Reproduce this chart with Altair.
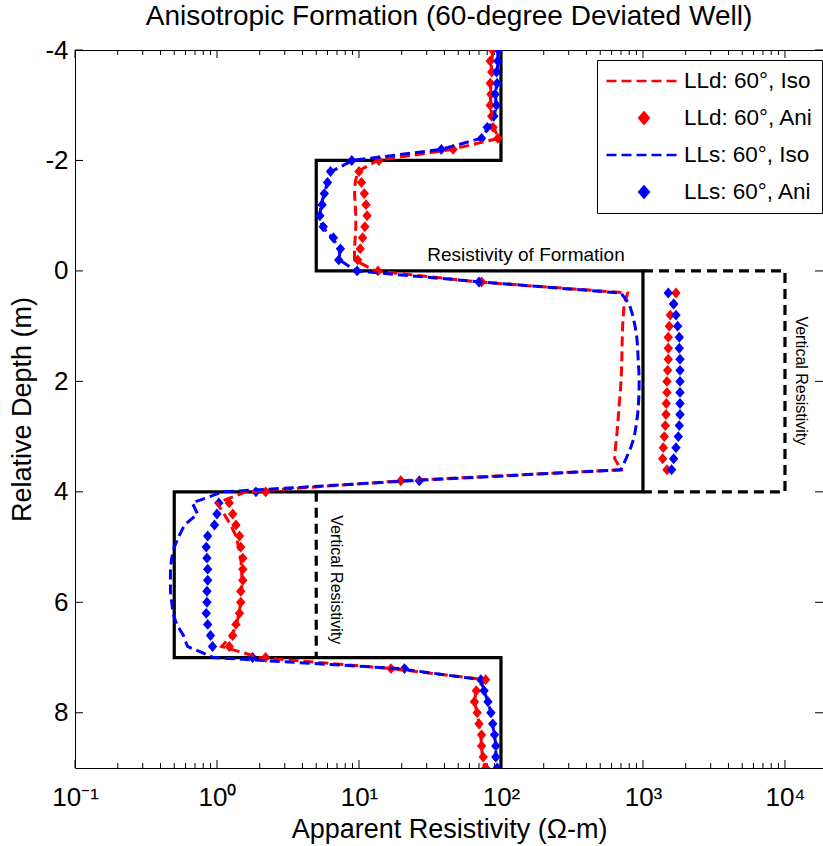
import altair as alt
import pandas as pd

# ---------------- data ----------------
depth = [-4.0, -3.8, -3.6, -3.4, -3.2, -3.0, -2.8, -2.6, -2.4, -2.2,
         -2.0, -1.8, -1.6, -1.4, -1.2, -1.0, -0.8, -0.6, -0.4, -0.2,
         0.0, 0.2, 0.4, 0.6, 0.8, 1.0, 1.2, 1.4, 1.6, 1.8,
         2.0, 2.2, 2.4, 2.6, 2.8, 3.0, 3.2, 3.4, 3.6, 3.8,
         4.0, 4.2, 4.4, 4.6, 4.8, 5.0, 5.2, 5.4, 5.6, 5.8,
         6.0, 6.2, 6.4, 6.6, 6.8, 7.0, 7.2, 7.4, 7.6, 7.8,
         8.0, 8.2, 8.4, 8.6, 8.8, 9.0]

lld_iso = [88, 86, 85, 85, 84, 85, 86, 89, 96, 45,
           13.5, 9.8, 9.4, 9.3, 9.4, 9.5, 9.5, 9.4, 9.3, 9.3,
           13, 70, 780, 738, 727, 719, 715, 712, 710, 706,
           700, 692, 681, 672, 663, 653, 640, 632, 700, 20,
           1.6, 1.0, 1.12, 1.25, 1.36, 1.42, 1.47, 1.49, 1.5, 1.49,
           1.47, 1.43, 1.37, 1.27, 1.08, 2.0, 17, 77, 67, 65,
           68, 70, 72, 73, 74, 77]

lld_ani = [87, 84, 86, 84, 85, 84, 86, 88, 95, 46,
           13.8, 10.0, 10.4, 10.9, 11.2, 11.4, 11.0, 10.6, 10.2, 9.8,
           13.6, 73, 1708, 1644, 1558, 1532, 1507, 1507, 1507, 1492,
           1476, 1476, 1460, 1452, 1436, 1413, 1390, 1376, 1476, 19.7,
           2.2, 1.22, 1.29, 1.36, 1.44, 1.47, 1.52, 1.52, 1.52, 1.47,
           1.47, 1.44, 1.36, 1.29, 1.22, 2.2, 16.8, 78, 67, 65,
           68, 70, 73, 73, 75, 78]

lls_iso = [95, 95, 94, 93, 92, 92, 90, 82, 72, 38,
           9.0, 6.4, 6.0, 5.7, 5.4, 5.3, 5.5, 6.5, 7.3, 7.3,
           9.5, 72, 700, 800, 846, 880, 905, 917, 925, 935,
           940, 938, 930, 917, 895, 869, 820, 760, 700, 23,
           1.1, 0.67, 0.73, 0.59, 0.54, 0.5, 0.48, 0.47, 0.47, 0.47,
           0.48, 0.49, 0.52, 0.58, 0.62, 0.95, 19, 72, 76, 81,
           85, 87, 90, 92, 92, 94]

lls_ani = [96, 95, 93, 94, 91, 93, 89, 80, 73, 38,
           8.9, 6.3, 6.0, 5.7, 5.5, 5.3, 5.6, 6.6, 7.4, 7.2,
           9.7, 70, 1507, 1644, 1708, 1755, 1802, 1802, 1823, 1823,
           1823, 1823, 1823, 1823, 1802, 1773, 1708, 1644, 1590, 26.6,
           1.88, 1.03, 1.0, 0.96, 0.86, 0.84, 0.85, 0.86, 0.86, 0.85,
           0.85, 0.84, 0.86, 0.9, 0.93, 1.78, 20.9, 72, 76, 81,
           85, 87.5, 90, 92, 92, 94]

series_names = ["LLd: 60°, Iso", "LLd: 60°, Ani", "LLs: 60°, Iso", "LLs: 60°, Ani"]

# formation (horizontal resistivity) model
form_res = [100, 100, 5, 5, 1000, 1000, 0.5, 0.5, 100, 100]
form_depth = [-4, -2, -2, 0, 0, 4, 4, 7, 7, 9]

# vertical resistivity
vert_res = [1000, 10000, 10000, 1000, 5, 5]
vert_depth = [0, 0, 4, 4, 4, 7]
vert_grp = ["a", "a", "a", "a", "b", "b"]

annot_text = ["Resistivity of Formation"]
annot_res = [150]
annot_depth = [-0.29]

vert_text = ["Vertical Resistivity", "Vertical Resistivity"]
vert_text_res = [12970, 6.89]
vert_text_depth = [1.99, 5.59]

x_major = [0.1, 1, 10, 100, 1000, 10000]
x_minor = [0.2, 0.3, 0.4, 0.5, 0.6, 0.7, 0.8, 0.9,
           2, 3, 4, 5, 6, 7, 8, 9,
           20, 30, 40, 50, 60, 70, 80, 90,
           200, 300, 400, 500, 600, 700, 800, 900,
           2000, 3000, 4000, 5000, 6000, 7000, 8000, 9000]
y_ticks = [-4, -2, 0, 2, 4, 6, 8]

# ---------------- tables ----------------
iso_df = pd.concat([
    pd.DataFrame({"depth": depth, "res": lld_iso, "series": series_names[0]}),
    pd.DataFrame({"depth": depth, "res": lls_iso, "series": series_names[2]}),
])
ani_df = pd.concat([
    pd.DataFrame({"depth": depth, "res": lld_ani, "series": series_names[1]}),
    pd.DataFrame({"depth": depth, "res": lls_ani, "series": series_names[3]}),
])
form_df = pd.DataFrame({"res": form_res, "depth": form_depth, "idx": list(range(len(form_res)))})
vert_df = pd.DataFrame({"res": vert_res, "depth": vert_depth, "grp": vert_grp,
                        "idx": list(range(len(vert_res)))})
annot_df = pd.DataFrame({"res": annot_res, "depth": annot_depth, "label": annot_text})
vtext_df = pd.DataFrame({"res": vert_text_res, "depth": vert_text_depth, "label": vert_text})
xmaj_df = pd.DataFrame({"res": x_major})
xmin_df = pd.DataFrame({"res": x_minor})
ytick_df = pd.DataFrame({"depth": y_ticks})

# ---------------- style ----------------
FONT = "Liberation Sans"
RED = "#ff0000"
BLUE = "#0000ff"
W, H = 748, 718

LINE_PATH = "M-1,0L1,0"
DIAMOND_PATH = "M0,-0.145L0.125,0L0,0.145L-0.125,0Z"

x_scale = alt.Scale(type="log", domain=[0.1, 18530], nice=False)
y_scale = alt.Scale(domain=[-4, 9], reverse=True, nice=False, zero=False)

x_label_expr = ("datum.value < 0.5 ? '10⁻¹' : datum.value < 5 ? '10⁰' : "
                "datum.value < 50 ? '10¹' : datum.value < 500 ? '10²' : "
                "datum.value < 5000 ? '10³' : '10⁴'")
x_axis = alt.Axis(values=x_major, labelExpr=x_label_expr, ticks=False, tickSize=0,
                  domain=False, grid=False, labelFontSize=26, labelPadding=16,
                  labelFlush=False, labelOverlap=False,
                  title="Apparent Resistivity (Ω-m)", titleFontSize=27,
                  titleFontWeight="normal", titlePadding=6)
y_axis = alt.Axis(values=y_ticks,
                  labelExpr="datum.value < 0 ? '-' + abs(datum.value) : '' + datum.value",
                  ticks=False, tickSize=0, domain=False, grid=False, labelFontSize=26,
                  labelPadding=7, labelFlush=False, labelOverlap=False,
                  title="Relative Depth (m)", titleFontSize=27,
                  titleFontWeight="normal", titlePadding=8)


def X():
    return alt.X("res:Q", scale=x_scale, axis=x_axis)


def Y():
    return alt.Y("depth:Q", scale=y_scale, axis=y_axis)


leg = alt.Legend(title=None)
color_range = [RED, RED, BLUE, BLUE]

# ---------------- layers ----------------
formation = alt.Chart(form_df).mark_line(color="black", strokeWidth=3.2).encode(
    x=X(), y=Y(), order=alt.Order("idx:Q"))

vertical = alt.Chart(vert_df).mark_line(color="black", strokeWidth=3.2, strokeDash=[10, 6]).encode(
    x=X(), y=Y(), detail="grp:N", order=alt.Order("idx:Q"))

points = alt.Chart(ani_df).mark_point(filled=True, opacity=1, size=5625, clip=True).encode(
    x=X(), y=Y(),
    fill=alt.Fill("series:N", scale=alt.Scale(domain=series_names, range=color_range), legend=leg),
    shape=alt.Shape("series:N", scale=alt.Scale(domain=series_names,
                                                range=[LINE_PATH, DIAMOND_PATH, LINE_PATH, DIAMOND_PATH]),
                    legend=leg),
)

lines = alt.Chart(iso_df).mark_line(strokeWidth=3).encode(
    x=X(), y=Y(), order=alt.Order("depth:Q"),
    stroke=alt.Stroke("series:N", scale=alt.Scale(domain=series_names, range=color_range), legend=leg),
    strokeDash=alt.StrokeDash("series:N", scale=alt.Scale(domain=series_names,
                                                          range=[[10, 5], [1, 0], [10, 5], [1, 0]]),
                              legend=leg),
)

annot = alt.Chart(annot_df).mark_text(font=FONT, fontSize=19, color="black",
                                      align="center", baseline="middle").encode(
    x=X(), y=Y(), text="label:N")

vtext = alt.Chart(vtext_df).mark_text(font=FONT, fontSize=16, color="black", angle=90,
                                      align="center", baseline="middle").encode(
    x=X(), y=Y(), text="label:N")

xmaj_bottom = alt.Chart(xmaj_df).mark_rule(color="black", strokeWidth=1).encode(
    x=X(), y=alt.value(H), y2=alt.value(H - 8))
xmaj_top = alt.Chart(xmaj_df).mark_rule(color="black", strokeWidth=1).encode(
    x=X(), y=alt.value(0), y2=alt.value(8))
xmin_bottom = alt.Chart(xmin_df).mark_rule(color="black", strokeWidth=1).encode(
    x=X(), y=alt.value(H), y2=alt.value(H - 5))
xmin_top = alt.Chart(xmin_df).mark_rule(color="black", strokeWidth=1).encode(
    x=X(), y=alt.value(0), y2=alt.value(5))
y_left = alt.Chart(ytick_df).mark_rule(color="black", strokeWidth=1).encode(
    y=Y(), x=alt.value(0), x2=alt.value(8))
y_right = alt.Chart(ytick_df).mark_rule(color="black", strokeWidth=1).encode(
    y=Y(), x=alt.value(W), x2=alt.value(W - 8))

chart = alt.layer(
    formation, vertical, xmaj_bottom, xmaj_top, xmin_bottom, xmin_top, y_left, y_right,
    points, lines, annot, vtext,
).properties(
    width=W, height=H,
    padding={"left": 75, "top": 50, "right": 0, "bottom": 78},
    autosize=alt.AutoSizeParams(type="none"),
    title=alt.TitleParams("Anisotropic Formation (60-degree Deviated Well)", fontSize=28,
                          fontWeight="normal", font=FONT, color="black", anchor="middle",
                          baseline="alphabetic", offset=10, dy=26),
).configure(
    font=FONT,
).configure_view(
    stroke="black", strokeWidth=1,
).configure_axis(
    labelFont=FONT, titleFont=FONT, labelColor="black", titleColor="black",
).configure_legend(
    orient="none", legendX=522, legendY=10,
    symbolSize=5625, symbolStrokeWidth=2.5, clipHeight=26,
    labelFont=FONT, labelFontSize=22.5, labelColor="black", labelOffset=1, labelLimit=400,
    padding=8, rowPadding=11,
    strokeColor="black", fillColor="white", cornerRadius=0,
)

chart.save("out.html", embed_options={"renderer": "svg", "actions": False})
